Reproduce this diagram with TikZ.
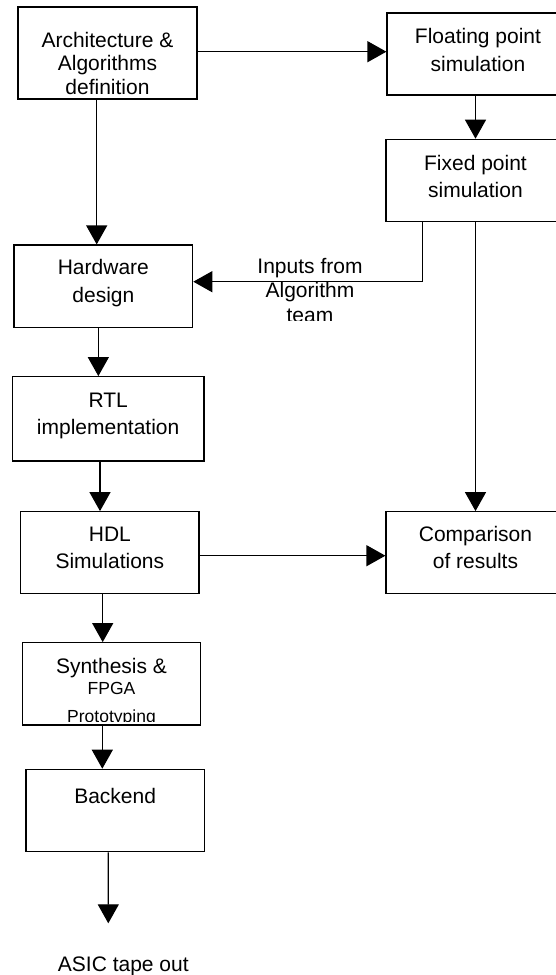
\documentclass[tikz,border=0pt]{standalone}
\usepackage{fontspec}
\setmainfont{Liberation Sans}
\usetikzlibrary{arrows.meta,calc}

\begin{document}
\begin{tikzpicture}[x=1pt,y=-1pt,
  box/.style={draw, line width=1.2pt, rectangle, inner sep=0pt},
  txt/.style={anchor=north, inner sep=0pt, align=center,
              font=\fontsize{21}{27.5}\selectfont},
  tight/.style={font=\fontsize{21}{23.5}\selectfont},
  lowtxt/.style={anchor=base, inner sep=0pt, font=\fontsize{21}{23.5}\selectfont},
  small/.style={anchor=base, inner sep=0pt, font=\fontsize{17.5}{20}\selectfont},
  flow/.style={line width=1.2pt, -{Triangle[length=19pt,width=21pt]}}]
\useasboundingbox (0,0) rectangle (556,975);
\clip (0,0) rectangle (556,975);

% process boxes
\node[box, minimum width=179pt, minimum height=92pt]   (arch) at (107.5,53)     {};
\node[box, minimum width=182pt, minimum height=82pt]   (flt)  at (478,54)       {};
\node[box, minimum width=179pt, minimum height=82.4pt] (fix)  at (475.5,180.5)  {};
\node[box, minimum width=178.7pt, minimum height=82.3pt] (hw) at (103.35,286.15) {};
\node[box, minimum width=191.7pt, minimum height=84.3pt] (rtl) at (108.15,418.85) {};
\node[box, minimum width=178.3pt, minimum height=81.6pt] (hdl) at (109.85,552.5) {};
\node[box, minimum width=179pt, minimum height=81.6pt] (cmp)  at (475.5,552.5)  {};
\node[box, minimum width=178.4pt, minimum height=82.3pt] (syn) at (111.5,683.85) {};
\node[box, minimum width=178.3pt, minimum height=82.4pt] (bak) at (115.15,810.5) {};

% box captions
\node[txt, tight] (archT) at (107.5,31.7)  {Architecture \&\\Algorithms\\definition};
\node[txt] (fltT) at (478,28.3)    {Floating point\\simulation};
\node[txt] (fixT) at (475.5,155)   {Fixed point\\simulation};
\node[txt] (hwT)  at (103.35,259.3) {Hardware\\design};
\node[txt, font=\fontsize{21}{26.7}\selectfont] (rtlT) at (108.15,393.3) {RTL\\implementation};
\node[txt] (hdlT) at (109.85,526.7) {HDL\\Simulations};
\node[txt] (cmpT) at (475.5,525.7)  {Comparison\\of results};
\node[txt] (synT) at (111.5,658.3)  {Synthesis \&};
\node[small] (fpgaT) at (111.5,694.3) {FPGA};
\begin{scope}
  \clip (24,700) rectangle (199,721.7);
  \node[small] (protoT) at (111.5,722) {Prototyping};
\end{scope}
\node[txt] (bakT) at (115.15,788.3) {Backend};
\node[txt] (asic) at (123.3,956.7)  {ASIC tape out};

% label on the feedback line, its last line cut off by the text frame
\node[txt, tight] (inT) at (310,258.3) {Inputs from\\Algorithm};
\begin{scope}
  \clip (220,300) rectangle (420,320.7);
  \node[lowtxt] (teamT) at (310,322.5) {team};
\end{scope}

% connectors
\coordinate (archOut) at ($(arch.east)+(0,-1.3)$);
\draw[flow] (archOut) -- (archOut -| flt.west);

\coordinate (archDown) at ($(arch.south)+(-10.8,0)$);
\draw[flow] (archDown) -- (archDown |- hw.north);

\draw[flow] (flt.south -| fix.north) -- (fix.north);

\coordinate (fixTap) at ($(fix.south)+(-52.8,0)$);
\coordinate (hwIn) at ($(hw.east)+(0,-4.45)$);
\draw[flow] (fixTap) |- (hwIn);

\draw[flow] (fix.south) -- (cmp.north);

\coordinate (hwDown) at ($(hw.south)+(-5,0)$);
\draw[flow] (hwDown) -- (hwDown |- rtl.north);

\coordinate (rtlDown) at ($(rtl.south)+(-8.15,0)$);
\draw[flow] (rtlDown) -- (rtlDown |- hdl.north);

\coordinate (hdlOut) at ($(hdl.east)+(0,3.2)$);
\draw[flow] (hdlOut) -- (hdlOut -| cmp.west);

\coordinate (hdlDown) at ($(hdl.south)+(-7.15,0)$);
\draw[flow] (hdlDown) -- (hdlDown |- syn.north);

\coordinate (synDown) at ($(syn.south)+(-9.2,0)$);
\draw[flow] (synDown) -- (synDown |- bak.north);

\coordinate (bakDown) at ($(bak.south)+(-6.85,0)$);
\coordinate (tapeout) at (108.3,923.3);
\draw[flow] (bakDown) -- (tapeout);
\end{tikzpicture}
\end{document}
